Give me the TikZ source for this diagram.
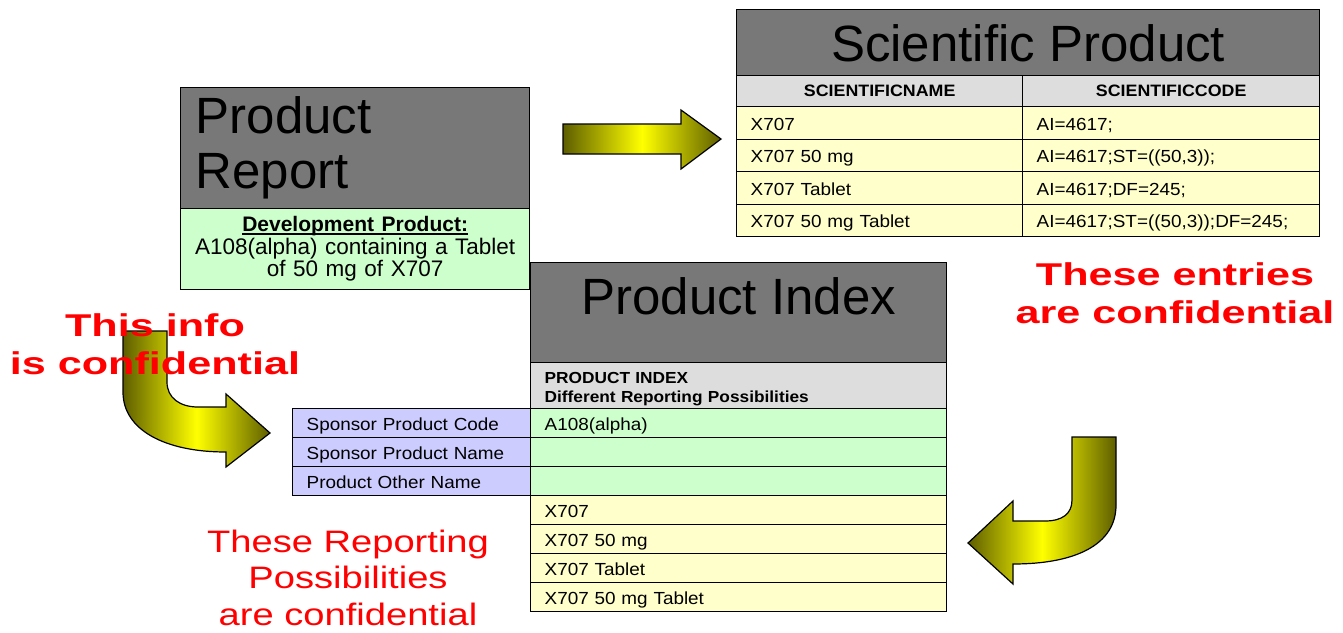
\documentclass[tikz,border=0pt]{standalone}
\usepackage{fontspec}
\setmainfont{Liberation Sans}
\newfontfamily\tabfont[FakeStretch=1.08]{Liberation Sans}
\newfontfamily\redbold[FakeStretch=1.37]{Liberation Sans}
\newfontfamily\redreg[FakeStretch=1.23]{Liberation Sans}
\newlength\ulwd
\newcommand\thickul[1]{\settowidth\ulwd{#1}\rlap{#1}\rule[-3pt]{\ulwd}{1.5pt}}
\definecolor{titlegray}{HTML}{787878}
\definecolor{hdrgray}{HTML}{DDDDDD}
\definecolor{rowyellow}{HTML}{FFFFCC}
\definecolor{rowgreen}{HTML}{CCFFCC}
\definecolor{rowpurple}{HTML}{CCCCFF}
\definecolor{arrdark}{HTML}{5E5E00}
\definecolor{arrbright}{HTML}{FFFF00}
\definecolor{redtext}{HTML}{FF0000}
\tikzset{
  box/.style={draw=black, line width=1.3pt, inner ysep=0pt, anchor=north west},
  titlebox/.style={box, fill=titlegray, font=\fontsize{51}{55}\selectfont, inner xsep=0pt, align=center},
  hdr/.style={box, fill=hdrgray, font=\tabfont\bfseries\fontsize{16.5}{19}\selectfont, align=center, inner xsep=0pt, text height=21pt, text depth=10pt},
  rowcell/.style={box, font=\tabfont\fontsize{17.5}{20}\selectfont, inner xsep=14pt, align=left},
  sprow/.style={rowcell, fill=rowyellow, text height=23.75pt, text depth=8.75pt},
  pirow/.style={rowcell, text height=22pt, text depth=7pt},
  blockarrow/.style={draw=black, line width=1.2pt, left color=arrdark, right color=arrdark, middle color=arrbright},
  redboldtext/.style={text=redtext, inner sep=0pt, anchor=north, align=center, font=\redbold\bfseries\fontsize{31.5}{38}\selectfont},
  redregtext/.style={text=redtext, inner sep=0pt, anchor=north, align=center, font=\redreg\fontsize{31}{36.5}\selectfont}
}
\begin{document}
\begin{tikzpicture}[x=1pt, y=-1pt]
\useasboundingbox (0,0) rectangle (1343,632);

% ---------- block arrows ----------
\path[blockarrow] (563,124) -- (681,124) -- (681,110) -- (721,139) -- (681,169) -- (681,154) -- (563,154) -- cycle;
\path[blockarrow] (123,331) -- (123,392) .. controls (123,430) and (165,452) .. (226,452)
   -- (226,467) -- (270,433) -- (226,394) -- (226,407) -- (198,407)
   .. controls (180,407) and (167,398) .. (167,382) -- (167,331) -- cycle;
\path[blockarrow] (1072,437) -- (1116,437) -- (1116,505) .. controls (1116,545) and (1075,564) .. (1013,564)
   -- (1013,584) -- (968,543) -- (1013,501) -- (1013,521) -- (1045,521)
   .. controls (1062,521) and (1072,514) .. (1072,500) -- cycle;

% ---------- Scientific Product ----------
\node[titlebox, minimum width=583pt, text height=52pt, text depth=14pt] (scititle) at (736,9) {Scientific Product};
\node[hdr, minimum width=286pt] (scihA) at (736,75) {SCIENTIFICNAME};
\node[hdr, minimum width=297pt] (scihB) at (1022,75) {SCIENTIFICCODE};
\node[sprow, text width=258pt] (sciA1) at (736,106) {X707};
\node[sprow, text width=269pt] (sciB1) at (1022,106) {AI=4617;};
\node[sprow, text width=258pt] (sciA2) at (736,138.5) {X707 50 mg};
\node[sprow, text width=269pt] (sciB2) at (1022,138.5) {AI=4617;ST=((50,3));};
\node[sprow, text width=258pt] (sciA3) at (736,171) {X707 Tablet};
\node[sprow, text width=269pt] (sciB3) at (1022,171) {AI=4617;DF=245;};
\node[sprow, text width=258pt] (sciA4) at (736,203.5) {X707 50 mg Tablet};
\node[sprow, text width=269pt] (sciB4) at (1022,203.5) {AI=4617;ST=((50,3));DF=245;};

% ---------- Product Report ----------
\node[box, fill=titlegray, minimum height=121pt, text width=319pt, inner xsep=15pt, align=left,
      font=\fontsize{51}{55}\selectfont] (prtitle) at (180,87) {Product\\Report};
\node[box, fill=rowgreen, minimum height=81pt, text width=341pt, inner xsep=4pt, align=center,
      font=\fontsize{22.5}{22.5}\selectfont] (prbody) at (180,208)
      {{\fontsize{21}{22.5}\selectfont\bfseries\thickul{Development Product:}}\\A108(alpha) containing a Tablet\\of 50 mg of X707};

% ---------- Product Index ----------
\node[titlebox, minimum width=416pt, text height=52pt, text depth=48pt] (pititle) at (530,262) {Product Index};
\node[box, fill=hdrgray, minimum height=46pt, text width=388pt, inner xsep=14pt, align=left,
      font=\tabfont\bfseries\fontsize{16}{19}\selectfont] (pihdr) at (530,362)
      {\rule{0pt}{19pt}PRODUCT INDEX\\Different Reporting Possibilities};
\node[pirow, fill=rowpurple, text width=210pt] (pil1) at (292,408) {Sponsor Product Code};
\node[pirow, fill=rowpurple, text width=210pt] (pil2) at (292,437) {Sponsor Product Name};
\node[pirow, fill=rowpurple, text width=210pt] (pil3) at (292,466) {Product Other Name};
\node[pirow, fill=rowgreen, text width=388pt] (pir1) at (530,408) {A108(alpha)};
\node[pirow, fill=rowgreen, text width=388pt] (pir2) at (530,437) {};
\node[pirow, fill=rowgreen, text width=388pt] (pir3) at (530,466) {};
\node[pirow, fill=rowyellow, text width=388pt] (pir4) at (530,495) {X707};
\node[pirow, fill=rowyellow, text width=388pt] (pir5) at (530,524) {X707 50 mg};
\node[pirow, fill=rowyellow, text width=388pt] (pir6) at (530,553) {X707 Tablet};
\node[pirow, fill=rowyellow, text width=388pt] (pir7) at (530,582) {X707 50 mg Tablet};

% ---------- red notes ----------
\node[redboldtext] (noteleft) at (155,313.3) {This info\\is confidential};
\node[redboldtext] (noteright) at (1175,262.5) {These entries\\are confidential};
\node[redregtext] (notebottom) at (348,529.4) {These Reporting\\Possibilities\\are confidential};
\end{tikzpicture}
\end{document}
